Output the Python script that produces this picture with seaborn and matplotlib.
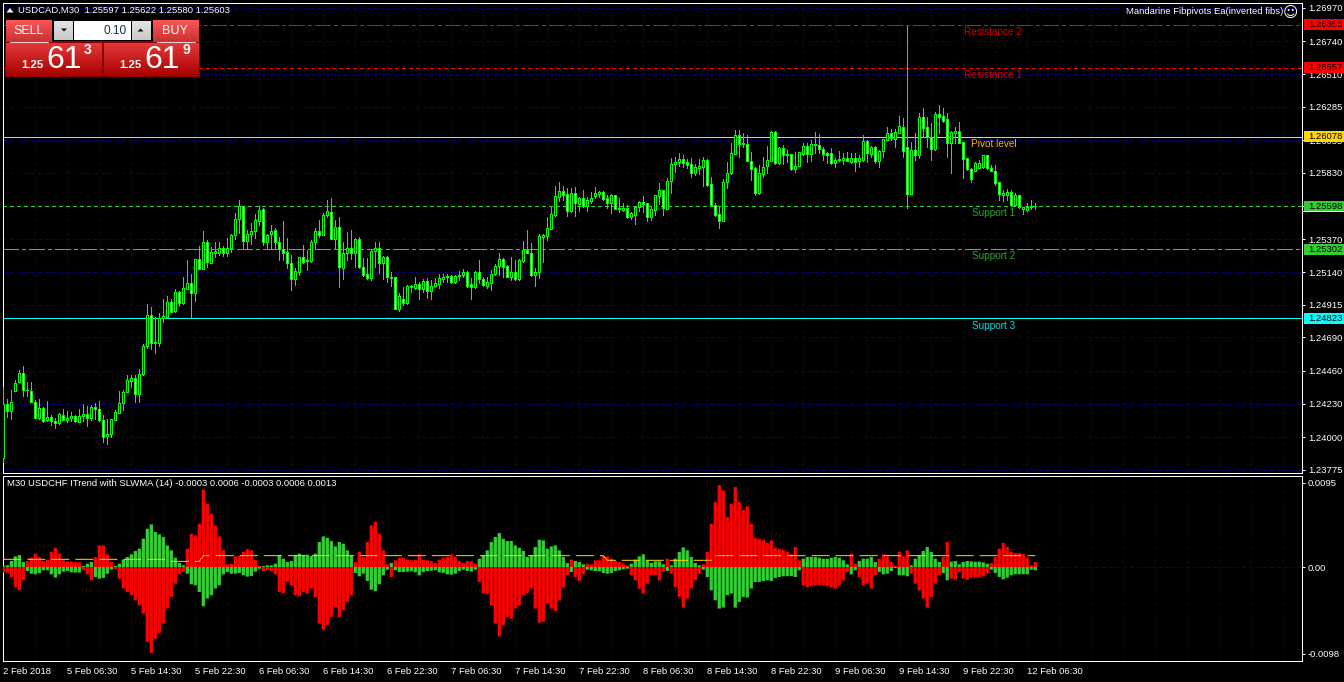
import numpy as np
import matplotlib
matplotlib.use("Agg")
import matplotlib.pyplot as plt
from matplotlib.patches import Rectangle, Polygon
import seaborn as sns

# ---------- price data: pips above BASE_PRICE, 30-minute bars ----------
BASE_PRICE = 1.2400
opens = [-14.2,23.2,18.1,32,38.2,44.7,32.9,32,24.4,13.5,
 20.5,11.7,14.2,11.4,9.8,15.6,12.1,13.5,14.9,10.8,
 14.9,16.3,13.5,21.2,19.5,12.1,0.8,2,12.1,17,
 23.9,31.5,38.9,41.2,30.2,44,63,84.2,65.7,65.3,
 82.4,83.3,93.2,87.4,100.8,93,102.7,106.4,99.9,123,
 116.6,134.8,120.7,127.2,127.2,131.1,127.6,131.1,139.7,150.7,
 159.8,136,140.3,142.4,149.4,157.7,135.3,140.3,143.1,134.8,
 130.4,127.9,120.3,109.2,114.5,124.4,122.3,121.9,134.8,142.4,
 140.1,153.5,155.6,137.3,145.2,117.2,127.2,130.6,127.6,136.9,
 117.9,112.6,109.9,128.6,130.6,120.3,124.4,110.5,110.5,88.4,
 95.3,93,103.6,103.2,105.7,102.2,108.2,101.3,104.8,106.2,
 109.4,110.5,111.2,107.5,111.2,111.9,114.5,105.7,104,114,
 109.6,104.5,106.9,112.6,118.6,123,118.2,111,114,109.4,
 122.1,129.5,127.2,112.4,114.5,138.7,139.4,144,154,166.5,
 170.1,168.1,156.7,168.8,161.4,165.3,160,163.7,167.1,168.3,
 169.9,165.3,162.3,167.4,158.4,157.2,158.4,152.6,154,159.5,
 162.5,161.8,152.6,157.2,167.1,170.8,157.9,177.5,188.8,190.2,
 192.5,190.4,189,183,186.5,186.7,191.8,174.9,160.8,154.1,
 149.7,176.3,182.5,196.2,208.9,203.3,202.9,191.3,186.5,168.7,
 182.1,187.6,191.3,211,190,199.9,196,195.7,185.8,187.6,
 196,201.3,195.7,202.2,202.4,199.6,196.4,196.4,190,191.6,
 192,193.4,190.6,192.9,191.3,191.6,205,196,200.8,191.3,
 197.8,205.9,210.3,206.6,210.7,214.4,201,168.5,198.7,195.5,
 221.6,214.4,207.5,199.2,223.7,222,220,203.8,210.3,211.7,
 204,192.9,185.8,184.4,186.5,186.7,195,186.5,184.2,176.3,
 167.5,167.8,169.6,160.6,167.3,157.6,157.4,159,159.7]
closes = [23.2,18.1,24.4,37.8,44.7,32.9,32.5,24.4,13.5,20.5,
 11.2,14.2,11.2,10.1,16.3,12.1,13.5,14.9,11.2,14.9,
 16.3,13.5,21.2,19.5,12.1,0.1,2.4,12.4,17.7,23.9,
 31.5,39.9,41.2,30.2,44,63.4,84.2,65.3,65.3,82.8,
 83.8,93.2,86.8,100.8,93,102.9,106.4,99.5,123,116.6,
 134.8,121.4,127.9,128.6,131.1,127.2,131.1,139.7,150.7,159.8,
 136,140.3,142.4,150,157,135.3,139.7,142.4,134.8,130.2,
 127.6,120.3,109.2,114.7,124.4,121.4,121.6,134.8,142.4,140.1,
 153.5,156.3,137.3,145.2,117.5,127.2,130.6,127.6,136.9,117.9,
 112.4,110.3,128.8,131.1,120.3,124.4,110.5,110.3,88.4,97.6,
 93,104.3,104.3,105.7,102.7,108.2,101.3,104.8,106.4,109.9,
 110.8,111.5,107.5,111.5,111.9,114.5,104.8,104,114,109.6,
 105.5,107.1,112.6,118.6,123,117.9,111,114,109.4,122.6,
 129.5,127.2,112.4,114,139.2,139.9,144.5,154.2,166.9,170.1,
 167.8,156.7,168.8,161.8,165.3,160,163.9,165.3,168.8,169.5,
 164.8,162.3,167.4,158.1,157.9,158.6,152.6,154.9,159.5,162.5,
 161.4,152.6,157.7,167.4,170.8,158.4,177.3,189,190.2,192.3,
 190,188.6,183,186.7,187.4,191.8,174.5,160.8,153.9,149.7,
 176.3,182.5,196.4,208.9,203.1,202.9,191.3,185.8,169.2,182.5,
 187.2,191.6,211,190,199.9,195.5,195.3,185.8,187.4,197.1,
 201.3,195.7,202.6,202.6,199.6,195.7,195.5,189.7,191.6,192.3,
 193.2,191.3,193.4,190.6,192.9,205,196.4,200.8,191.3,198,
 206.1,210.3,206.8,211.2,215.4,198.3,168.5,198.7,195.5,221.6,
 213.7,207.5,199.2,223.7,221.8,218.8,203.8,211.4,211.7,203.8,
 192.7,185.8,178.6,189.5,189.7,195,186.2,184.4,176.1,168.5,
 168.9,169.6,160.6,167.3,159,159.2,159.2,159.7,160.3]
highs = [34.8,26.7,32.9,39.4,46.3,49.1,38.2,38,25.5,26.7,
 20.9,24.8,15.1,13.5,16.8,19.3,17.9,17.5,15.6,19.3,
 22.8,21.4,22.1,23.9,24.8,15.6,12.4,12.8,18.6,31.8,
 32.5,42.9,42.9,43.3,47,64.3,92.1,90.2,83.3,85.6,
 95.3,97.8,95.3,102.2,101.3,110.8,122.6,112.9,123.5,132.3,
 142.7,136.4,131.8,134.8,134.8,132.5,137.6,140.3,155.4,164.1,
 160,143.4,148,154.2,160,158.4,140.3,146.6,144.5,138.7,
 149.4,137.6,126,116.8,124.4,133,129.5,136.4,144.5,150.3,
 154.9,164.1,165.3,150.3,152.6,135,142.2,143.4,137.6,138.3,
 123.7,123.7,129.5,135,135,125.3,125.3,114.5,111,99.5,
 104.1,105.2,105.2,110.5,107.5,109.4,109.9,108.7,110.3,112.9,
 112.9,112.6,112.2,111.9,115.2,116.1,115.2,109.9,115.2,122.6,
 111,111,115.6,119.8,127.2,123.7,119.1,124.4,122.6,123.5,
 135.7,143.4,134.1,116.8,140.6,140.6,152.6,159.5,173.8,176.6,
 173.8,172.2,172.2,172.9,166.5,171.1,166.5,169.9,172.9,170.4,
 170.4,167.6,168.3,167.8,165.3,161.8,160.7,156.1,160,163.7,
 166.9,162.3,160,167.8,175.7,171.1,179.2,193.2,193.9,196.7,
 195.3,192.5,192.9,189,192.5,194.1,192.5,179.8,161.8,159.9,
 178.4,190.6,203.8,212.6,212.6,210.3,209.1,197.6,186.7,188.3,
 194.1,201.5,212.1,211.7,200.6,202.2,198.7,196.2,197.6,197.6,
 203.8,203.3,205.7,211,209.8,201,197.6,199.9,192.9,197.8,
 196.4,197.6,196.4,196.4,195.3,209.1,205.7,201.5,201.5,198.7,
 206.6,214.4,213,213.5,222.3,220.7,284.5,204.5,210.3,224.1,
 227.6,221.8,217.2,225.3,229.9,227.6,224.1,211.9,214.9,218.4,
 204.5,193.4,186.2,190.6,191.8,195.3,195.5,188.3,188.3,176.8,
 171,171.7,171,168.7,167.8,159.4,161.8,164.1,162.2]
lows = [-17.2,14,12.6,32,38.2,28.3,28.3,24.4,13.5,12.8,
 10.5,11.2,8.2,6.4,9.1,11.7,10.3,11.2,10.5,10.5,
 11.2,7.8,11.7,12.6,11.2,-3.3,-5,0.1,11.7,17,
 18.6,31.1,34.8,24.4,24.4,43.3,62,60.9,58.3,63.2,
 79.8,82.8,86.5,86.5,90.7,92.1,102.7,82.6,94.4,116.1,
 116.1,117.7,120.7,124.9,126,125.3,125.3,128.3,137.3,141,
 130,130,133.6,137.6,146.8,133,131.1,130,130,122.6,
 122.6,116.8,101.8,105.2,112.2,120.3,115.6,121.4,130,138.7,
 139.7,152.6,136.9,130.6,104.1,109.6,122.6,123,117.5,116.8,
 111.5,109.6,108.7,117.9,113.3,109.2,107.5,104.5,88.4,87.4,
 91.8,92.1,100.6,102.2,95.5,100.6,96,95.3,103.6,102.9,
 107.5,107.5,106.9,106.4,108.7,110.5,103.6,95.3,102.9,106.4,
 104.5,102.9,101.8,112.2,112.2,111,110.5,108.7,108.7,108.7,
 121.4,127.2,111.7,104.5,109.9,121.4,136.4,143.8,153.3,163.7,
 164.1,153,156,153,156.7,159.5,156.7,161.8,165.3,166,
 164.1,158.4,155.4,157.7,156,156.7,151.4,150.7,147.5,156.7,
 156,149.6,150.3,153.7,161.4,153.7,157.7,169,183.5,187.7,
 186.7,186.2,180.2,181.2,182.1,173.8,173.8,160.4,153,144.9,
 149.7,172.6,182.1,196,194.1,201,190.9,177.9,167.3,168.2,
 180.2,182.5,190.9,189,189,189,190.6,184.9,183.2,187.4,
 195.3,190.6,191.1,196.4,196.4,191.8,189.5,189,187.2,191.3,
 189,191.1,190,184.4,186.7,191.3,190.4,194.1,189.5,186.7,
 194.1,205.7,205.7,201,210.3,194.1,158.8,168.2,191.8,192.9,
 208,201,191.8,198.7,210.3,218.4,194.1,183,203.8,203.3,
 179.1,184.9,176.8,184.2,186,186.5,185.8,183.9,174.5,164.1,
 163.6,164.1,159.9,160.2,158.5,154.4,156.7,157.6,157.6]

# ---------- oscillator (units of 0.0001) ----------
red_vals = [-6.3,-6.3,-11.2,-22.4,-26.1,-14.9,6.7,10.4,14.9,11.2,
 6.7,8.2,16.8,21.6,14.9,7.5,6.3,6,5.6,5.2,
 -3.7,-8.2,-14.9,11.2,24.2,24.2,14.2,5.6,-2.2,-13.1,
 -24.2,-28,-31.7,-37.3,-42.9,-52.2,-83.9,-96.2,-80.2,-73.9,
 -63.4,-46.6,-33.6,-18.7,-8.2,-5.6,20.5,37.3,35.4,48.5,
 86.9,70.9,59.7,46.6,34.3,18.7,3,3.7,11.9,12.3,
 16.8,19.8,18.7,8.2,1.1,-4.5,-3.7,-4.5,-8.2,-28,
 -29.1,-16.8,-20.5,-31.7,-32.8,-28,-29.8,-24.2,-33.6,-63.4,
 -70.1,-65.3,-56,-44.8,-56,-48.5,-39.2,-31.7,5.6,16.8,
 11.2,28,46.6,50.4,37.3,18.7,3,-11.2,7.5,10.1,
 10.1,8.2,7.5,8.2,14.2,8.2,7.5,6.7,4.5,8.2,
 10.4,11.2,14.2,11.2,6.7,4.5,6.7,6.7,3.7,-16.8,
 -29.8,-30.6,-42.9,-63.4,-77.6,-65.3,-56,-57.8,-46.6,-42.9,
 -31.7,-29.1,-24.2,-46.6,-62.3,-61.5,-41,-46.6,-49.2,-37.3,
 -23.1,-9.3,8.2,-11.2,-15.7,-8.2,3.7,3,7.5,7.5,
 12.3,11.9,9.3,6.7,5.6,3.7,1.9,-9.3,-14.9,-24.2,
 -29.8,-18.7,-9.3,-9.3,-14.9,-5.6,9.3,-7.5,-22.4,-33.6,
 -45.5,-35.4,-24.2,-14.9,-7.5,3,16.8,48.5,72.7,91.8,
 85.8,56,70.9,89.5,72.7,64.2,67.9,48.5,32.5,31.7,
 30.6,26.9,29.8,21.6,20.5,19.4,16.8,14.2,22.4,7.5,
 -20.5,-22.4,-21.6,-20.5,-20.5,-20.5,-21.6,-23.1,-24.2,-20.5,
 -14.9,-5.6,14.9,3.7,-11.2,-20.5,-18.7,-24.2,-9.3,9.3,
 14.2,11.9,5.6,1.1,16.8,11.9,18.7,-7.5,-18.7,-26.1,
 -35.4,-45.5,-33.6,-18.7,-9.3,11.2,28,-13.1,-14.2,-5.6,
 -13.1,-14.2,-11.9,-11.9,-11.2,-10.4,-7.5,4.5,11.2,20.5,
 26.9,22.4,16.8,15.7,15.7,14.9,10.4,1.9,5.6]
green_vals = [1.1,1.9,6.7,11.9,13.4,5.6,-4.5,-7.5,-8.2,-6.7,
 -3.7,-3.7,-8.2,-11.9,-8.2,-5.2,-4.5,-6,-6.3,-6.3,
 1.1,3.7,5.6,-11.2,-13.1,-12.3,-7.5,-3,1.1,3.7,
 8.2,11.2,14.2,17.9,20.5,31.7,42.9,47.7,39.2,36.6,
 33.6,24.2,18.7,10.4,4.5,1.9,-7.5,-19.4,-20.5,-28,
 -44,-35.4,-31.7,-24.2,-20.5,-8.2,-5.6,-7.5,-7.5,-6.7,
 -9.3,-10.8,-10.1,-5.2,-1.9,1.1,1.9,1.9,3.7,13.1,
 9.3,5.6,6.7,13.1,14.9,13.1,13.8,12.3,14.9,28,
 34.3,32.8,29.1,23.1,28,26.1,18.7,13.1,-6.7,-10.4,
 -7.5,-15.7,-25.4,-26.9,-19.4,-9.3,-3,4.5,-3.7,-5.6,
 -5.6,-5.2,-4.8,-6,-9.3,-5.6,-4.5,-4.1,-3.7,-6,
 -6.7,-8.2,-8.6,-7.5,-4.5,-3,-4.5,-5.2,-3,9.3,
 13.1,18.7,28,33.6,38,31.7,29.1,29.1,24.2,21.6,
 17.9,11.2,13.1,22.4,30.6,29.8,20.5,23.1,24.2,18.7,
 11.2,4.5,-5.6,6.7,5.6,3,-3,-3.7,-4.5,-4.8,
 -6.7,-7.5,-6.7,-4.5,-3.7,-2.6,-1.9,3.7,8.2,11.9,
 14.2,7.5,4.5,6.3,6.3,3,-4.5,1.9,9.3,16.8,
 22,18.7,11.2,4.5,1.9,-3,-11.2,-26.1,-37.3,-46.6,
 -45.5,-31.7,-29.8,-45.5,-39.2,-33.6,-34.3,-24.2,-16.8,-16.8,
 -15.7,-14.9,-15.7,-12.3,-11.2,-10.4,-10.4,-10.1,-11.2,-3.7,
 9.3,11.2,11.2,11.2,10.4,9.3,9.3,10.4,11.2,10.4,
 7.5,3,-8.2,-3.7,6.7,9.3,9.3,11.2,5.6,-5.6,
 -8.2,-7.5,-4.5,-1.1,-9.3,-9.3,-10.4,1.9,9.3,13.1,
 17.9,22.4,16.8,9.3,5.6,-6.7,-14.9,6,6.7,3,
 5.6,6.7,6.3,6,6,5.2,3.7,-3,-6.7,-11.2,
 -13.8,-11.9,-9.3,-8.2,-8.2,-8.2,-8.2,-3,-3.7]
signal_levels = [8.6, 6.3, 12.7, 7.5, 12.7]
signal_runs = [42, 8, 101, 27, 81]

# ---------- axes labels ----------
price_ticks = [1.26970,1.26740,1.26510,1.26285,1.26055,1.25830,1.25600,1.25370,
               1.25140,1.24915,1.24690,1.24460,1.24230,1.24000,1.23775]
date_labels = ["2 Feb 2018","5 Feb 06:30","5 Feb 14:30","5 Feb 22:30","6 Feb 06:30","6 Feb 14:30",
               "6 Feb 22:30","7 Feb 06:30","7 Feb 14:30","7 Feb 22:30","8 Feb 06:30","8 Feb 14:30",
               "8 Feb 22:30","9 Feb 06:30","9 Feb 14:30","9 Feb 22:30","12 Feb 06:30"]
level_names = ["Resistance 2","Resistance 1","Pivot level","Support 1","Support 2","Support 3"]
level_prices = [1.26853,1.26557,1.26078,1.25598,1.25302,1.24823]

# ---------- styling ----------
FONT = "Liberation Sans"
FS = 6.8
NAVY = "#000080"
LIME = "#00FF00"
sns.set_theme(style="dark", rc={"axes.facecolor":"black","figure.facecolor":"black",
                                "savefig.facecolor":"black","axes.edgecolor":"white",
                                "xtick.color":"white","ytick.color":"white"})
plt.rcParams["font.family"] = [FONT, "DejaVu Sans"]

W, H = 1344, 682
fig = plt.figure(figsize=(W/100, H/100), dpi=100)
def rect_px(l, t, r, b):
    return [l/W, (H-b)/H, (r-l)/W, (b-t)/H]
ax = fig.add_axes(rect_px(2.5, 2.5, 1302, 473))
ax2 = fig.add_axes(rect_px(2.5, 475.5, 1302, 661))
px = 0.72   # one pixel in points

idx = np.arange(len(opens))
o = BASE_PRICE + np.array(opens)*1e-4
c = BASE_PRICE + np.array(closes)*1e-4
hi = BASE_PRICE + np.array(highs)*1e-4
lo = BASE_PRICE + np.array(lows)*1e-4

XMIN, XMAX = -0.21, 324.7
YTOP, YBOT = 1.27008, 1.23752

# grid
grid_x = np.arange(8, 325, 8)
for a in (ax, ax2):
    for g in grid_x:
        a.axvline(g, color=NAVY, lw=px, ls=(0, (3, 3)), zorder=1, antialiased=False)
for p in price_ticks:
    ax.axhline(p, color=NAVY, lw=px, ls=(0, (3, 3)), zorder=1, antialiased=False)
ax2.axhline(0, color=NAVY, lw=px, ls=(0, (3, 3)), zorder=1, antialiased=False)

# levels
level_styles = [("#FF0000",(0,(16,3,3,3))),("#FF0000",(0,(4,3))),("#FFD700","-"),
                ("#32CD32",(0,(4,3))),("#32CD32",(0,(16,3,3,3))),("#00FFFF","-")]
for p, (col, ls) in zip(level_prices, level_styles):
    ax.axhline(p, color=col, lw=px, ls=ls, zorder=2, antialiased=False)

# candles
ax.vlines(idx, lo, hi, color=LIME, lw=px, zorder=3, antialiased=False)
up = c >= o
body_lo = np.minimum(o, c)
body_h = np.abs(c - o)
ax.bar(idx, body_h, bottom=body_lo, width=0.5, color=np.where(up, "black", "white"),
       edgecolor=LIME, linewidth=px, zorder=4, antialiased=False)

ax.set_xlim(XMIN, XMAX)
ax.set_ylim(YBOT, YTOP)
ax.set_xticks([])
ax.set_yticks(price_ticks)
ax.set_yticklabels([f"{p:.5f}" for p in price_ticks], fontsize=FS, color="white")
ax.yaxis.tick_right()
ax.tick_params(axis="y", length=3*px, width=px, color="white", pad=2.2)

# oscillator
sns.barplot(x=idx, y=red_vals, native_scale=True, color="#FF0000", saturation=1, width=0.82,
            errorbar=None, linewidth=0, ax=ax2, zorder=3)
sns.barplot(x=idx, y=green_vals, native_scale=True, color="#32CD32", saturation=1, width=0.82,
            errorbar=None, linewidth=0, ax=ax2, zorder=3)
for b in ax2.patches:
    b.set_snap(False)
signal = np.repeat(signal_levels, signal_runs)
ax2.plot(idx, signal, color="#FFD700", lw=px, ls=(0, (18, 6)), zorder=5, dash_capstyle="butt")

ax2.set_xlim(XMIN, XMAX)
ax2.set_ylim(-105.3, 102.5)
major = np.arange(0, 257, 16)
ax2.set_xticks(major)
ax2.set_xticklabels(date_labels, fontsize=FS, color="white", ha="left")
ax2.set_yticks([94.6, 0, -97.4])
ax2.set_yticklabels(["0.0095", "0.00", "-0.0098"], fontsize=FS, color="white")
ax2.yaxis.tick_right()
ax2.tick_params(axis="y", length=3*px, width=px, color="white", pad=2.2)
ax2.tick_params(axis="x", length=3*px, width=px, color="white", pad=2.2)
ax2.set_xlabel(""); ax2.set_ylabel("")

for a in (ax, ax2):
    a.grid(False)
    for s in a.spines.values():
        s.set_color("white"); s.set_linewidth(px)

# ---------- overlay in pixel coordinates: tags, captions, trade panel ----------
ov = fig.add_axes([0, 0, 1, 1], zorder=10)
ov.patch.set_alpha(0)
ov.axis("off")

def price_y(p):
    return 2.5 + (YTOP - p)/(YTOP - YBOT)*470.5

def gradient(l, t, r, b, top, bot):
    n = 32
    t0 = np.array(matplotlib.colors.to_rgb(top)); t1 = np.array(matplotlib.colors.to_rgb(bot))
    arr = (t0[None, None, :]*(1-np.linspace(0, 1, n))[:, None, None]
           + t1[None, None, :]*np.linspace(0, 1, n)[:, None, None])
    ov.imshow(arr, extent=(l, r, b, t), aspect="auto", zorder=2, interpolation="bilinear")

def txt(x, y, s, color="white", size=FS, ha="left", weight="normal", z=6, family=None):
    ov.text(x, y, s, color=color, fontsize=size, ha=ha, va="center", fontweight=weight, zorder=z,
            family=family if family else [FONT, "DejaVu Sans"])

# price tags
tag_cols = ["#FF0000","#FF0000","#FFD700","#32CD32","#32CD32","#00FFFF"]
for p, col in zip(level_prices, tag_cols):
    y = price_y(p)
    ov.add_patch(Rectangle((1303.5, y-5.5), 41, 11, facecolor=col, edgecolor="none", zorder=3))
    txt(1308, y, f"{p:.5f}", color="black")
ov.plot([1303, 1344], [211.2, 211.2], color="white", lw=px, zorder=4)

# level captions
cap_cols = ["#D80000","#D80000","#FFB400","#28A828","#28A828","#00E0E0"]
cap_x = [964, 964, 971, 972, 972, 972]
cap_y = [32, 75, 144, 213, 256, 326]
for name, col, x, y in zip(level_names, cap_cols, cap_x, cap_y):
    txt(x, y, name, color=col, size=7.2)

# chart titles
ov.add_patch(Polygon([[6.5, 12.5], [13.5, 12.5], [10, 8]], closed=True, facecolor="white", edgecolor="none", zorder=5))
txt(18, 10.5, "USDCAD,M30  1.25597 1.25622 1.25580 1.25603")
txt(7, 484, "M30 USDCHF ITrend with SLWMA (14) -0.0003 0.0006 -0.0003 0.0006 0.0013")
txt(1283, 11.5, "Mandarine Fibpivots Ea(inverted fibs)", ha="right")
txt(1290.5, 12, "\u263A", size=10.5, ha="center", family="DejaVu Sans")

# trade panel
ov.add_patch(Rectangle((52, 19), 102, 24, facecolor="black", edgecolor="none", zorder=1))
ov.add_patch(Rectangle((5, 41), 195, 36, facecolor="#8B0000", edgecolor="none", zorder=1))
gradient(6, 20, 52, 42, "#FF5555", "#C83232")
gradient(153, 20, 199, 42, "#FF5555", "#C83232")
gradient(6, 43, 102, 76, "#E23838", "#A80000")
gradient(104, 43, 199, 76, "#E23838", "#A80000")
for l, r in ((10, 48), (157, 195)):
    ov.plot([l, r], [41.8, 41.8], color="#F0D0D0", lw=px, zorder=4)
txt(28.5, 30.5, "SELL", ha="center", size=9)
txt(175, 30.5, "BUY", ha="center", size=9)
gradient(54, 21, 73, 40, "#E4E4E4", "#C8C8C8")
gradient(132, 21, 151, 40, "#E4E4E4", "#C8C8C8")
ov.add_patch(Rectangle((74, 21), 57, 19, facecolor="white", edgecolor="none", zorder=3))
ov.add_patch(Polygon([[61, 28.5], [67, 28.5], [64, 31.5]], closed=True, facecolor="black", edgecolor="none", zorder=5))
ov.add_patch(Polygon([[137.5, 31.5], [143.5, 31.5], [140.5, 28.5]], closed=True, facecolor="black", edgecolor="none", zorder=5))
txt(127, 30.5, "0.10", color="#1A2A50", ha="right", size=8.6)
for x0, last in ((21, "3"), (119, "9")):
    txt(x0, 65.5, "1.25", weight="bold", size=8.2)
    txt(x0+43, 60, "61", ha="center", size=23)
    txt(x0+67, 50.5, last, ha="center", weight="bold", size=10)

ov.set_xlim(0, W)
ov.set_ylim(H, 0)

fig.savefig("out.png", dpi=100, facecolor="black")
